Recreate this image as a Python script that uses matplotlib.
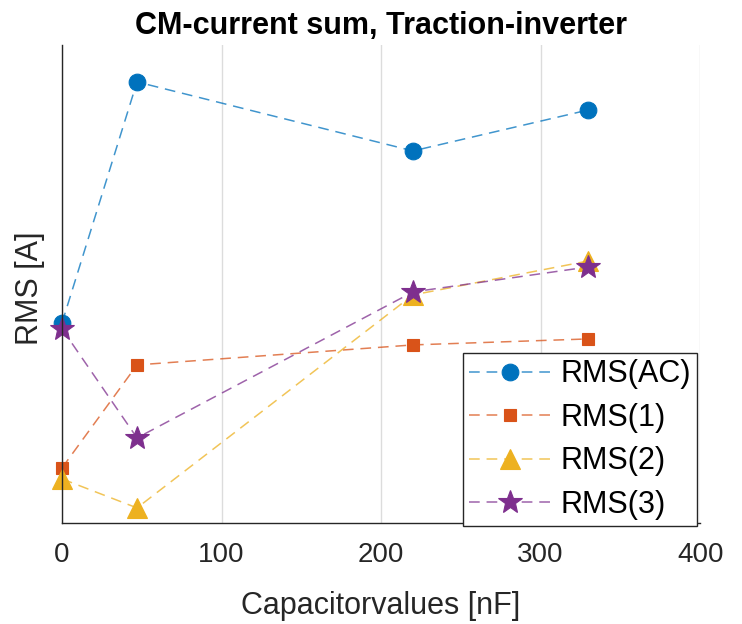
import matplotlib
matplotlib.use("Agg")
import matplotlib.pyplot as plt
from matplotlib.colors import to_rgba

plt.rcParams['font.family'] = ['Liberation Sans', 'DejaVu Sans']

# capacitor values [nF]
cap = [0, 47, 220, 330]

# RMS values (arbitrary units, y axis has no tick labels)
rms_ac = [2.00, 4.41, 3.72, 4.13]
rms_1 = [0.55, 1.58, 1.78, 1.84]
rms_2 = [0.44, 0.15, 2.28, 2.62]
rms_3 = [1.94, 0.85, 2.31, 2.56]

labels = ['RMS(AC)', 'RMS(1)', 'RMS(2)', 'RMS(3)']
colors = ['#0072BD', '#D95319', '#EDB120', '#7E2F8E']
markers = ['o', 's', '^', '*']
msizes = [12, 9, 14, 18]

fig = plt.figure(figsize=(7.42, 6.24), dpi=100)
ax = fig.add_axes([0.0836, 0.162, 0.86, 0.766])

for y, lab, c, m, ms in zip([rms_ac, rms_1, rms_2, rms_3], labels, colors, markers, msizes):
    ax.plot(cap, y, linestyle=(0, (7, 4.5)), linewidth=1.1, color=to_rgba(c, 0.75),
            marker=m, markersize=ms, markerfacecolor=c, markeredgecolor=c,
            markeredgewidth=0.8, label=lab, clip_on=False)

ax.set_xlim(0, 400)
ax.set_ylim(0, 4.78)
ax.set_xticks([0, 100, 200, 300, 400])
ax.set_yticks([])
ax.grid(True, axis='x', color='#dcdcdc', linewidth=1)
ax.set_axisbelow(True)
for s in ['top', 'right']:
    ax.spines[s].set_visible(False)
for s in ['left', 'bottom']:
    ax.spines[s].set_color('#262626')
    ax.spines[s].set_linewidth(1)
ax.tick_params(axis='x', labelsize=20, colors='#262626', length=0, pad=14)
ax.set_xlabel('Capacitorvalues [nF]', fontsize=22, color='#262626', labelpad=16)
ax.set_ylabel('RMS [A]', fontsize=22, color='#262626')
ax.yaxis.set_label_coords(-0.027, 0.49)
ax.set_title('CM-current sum, Traction-inverter', fontsize=22, fontweight='bold', pad=8)

leg = ax.legend(loc='lower right', bbox_to_anchor=(0.995, -0.006), fontsize=22,
                frameon=True, fancybox=False, edgecolor='#262626', framealpha=1,
                handlelength=2.7, handletextpad=0.3, labelspacing=0.44,
                borderpad=0.2, borderaxespad=0)
leg.get_frame().set_linewidth(1)

fig.savefig('out.png', dpi=100)
